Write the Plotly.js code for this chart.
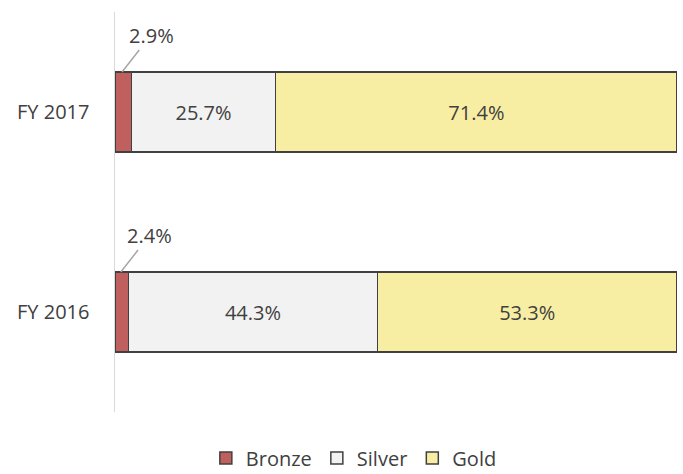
<!DOCTYPE html>
<html><head><meta charset="utf-8">
<script src="https://cdn.plot.ly/plotly-3.0.1.min.js"></script>
<style>body{margin:0;background:#fff}#chart{width:683px;height:474px}</style>
</head><body><div id="chart"></div>
<script>
var categories = ['FY 2016', 'FY 2017'];
var bronze = [2.4, 2.9];
var silver = [44.3, 25.7];
var gold = [53.3, 71.4];
var seriesNames = ['Bronze', 'Silver', 'Gold'];
var colors = ['#c0605e', '#f2f2f2', '#f7eea3'];
var lineCol = '#404040';
var font = "'Open Sans', 'Noto Sans', sans-serif";
var fs = 20;

function mk(name, vals, color, showText) {
  return {
    type: 'bar', orientation: 'h', name: name, y: categories, x: vals,
    width: 0.4,
    marker: {color: color, line: {color: lineCol, width: 1.5}},
    text: showText ? vals.map(function(v){return v.toFixed(1)+'%';}) : null,
    textposition: showText ? 'inside' : 'none',
    insidetextanchor: 'middle',
    textfont: {family: font, size: fs, color: '#404040'},
    hoverinfo: 'none'
  };
}
var data = [mk(seriesNames[0], bronze, colors[0], false),
            mk(seriesNames[1], silver, colors[1], true),
            mk(seriesNames[2], gold, colors[2], true)];

var annotations = bronze.map(function(v, i){
  return {
    x: v * 0.43, y: i + 0.2, xref: 'x', yref: 'y',
    text: v.toFixed(1) + '%', showarrow: true, arrowhead: 0, arrowwidth: 1.5,
    arrowcolor: '#a6a6a6', ax: 29, ay: -37, standoff: 0,
    font: {family: font, size: fs, color: '#404040'}
  };
});

var layout = {
  width: 683, height: 474,
  margin: {l: 115, r: 6, t: 12, b: 62},
  barmode: 'stack',
  bargap: 0.6,
  showlegend: true,
  paper_bgcolor: '#fff', plot_bgcolor: '#fff',
  font: {family: font, color: '#404040'},
  xaxis: {range: [0, 100], visible: false, fixedrange: true},
  yaxis: {type: 'category', categoryarray: categories, showline: true, linecolor: '#d9d9d9', linewidth: 1.5,
          showgrid: false, zeroline: false, ticks: '', ticklabelstandoff: 20,
          tickfont: {family: font, size: fs, color: '#404040'}},
  legend: {orientation: 'h', x: 0.425, xanchor: 'center', yref: 'container', y: 0.034, yanchor: 'middle',
           font: {family: font, size: fs, color: '#404040'}, traceorder: 'normal',
           itemwidth: 30},
  annotations: annotations
};
Plotly.newPlot('chart', data, layout, {displayModeBar: false, staticPlot: true});
</script></body></html>
